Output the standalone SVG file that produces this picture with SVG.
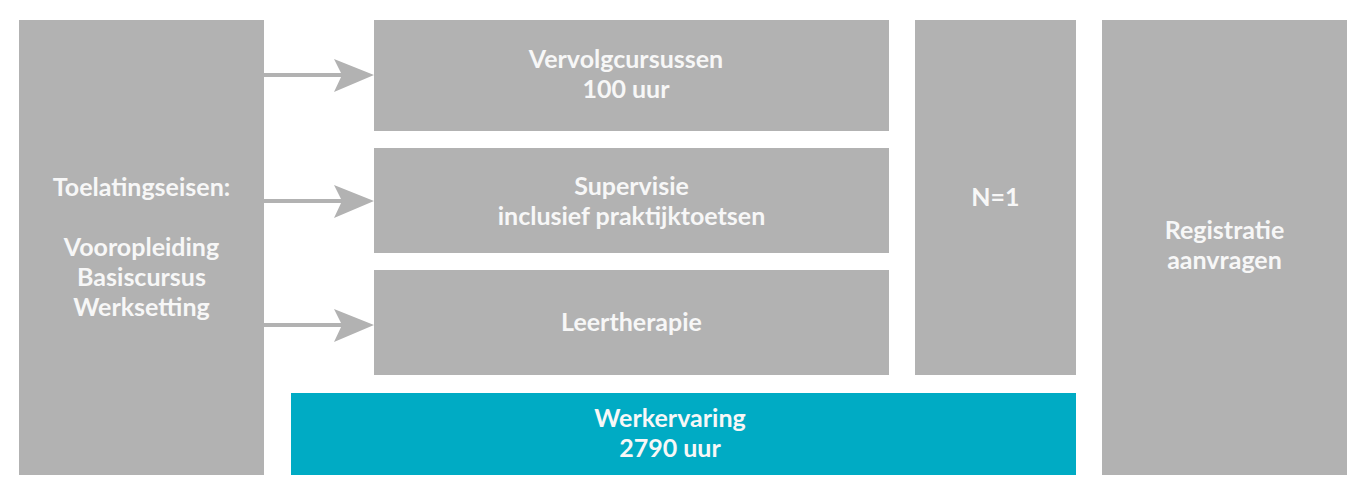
<svg xmlns="http://www.w3.org/2000/svg" width="1366" height="500" viewBox="0 0 1366 500">
<style>
.box{fill:#b2b2b2}
.teal{fill:#00abc4}
.t{font-family:Lato,"Open Sans","Liberation Sans",sans-serif;font-weight:bold;font-size:25px;fill:#f7f7f7;text-anchor:middle}
.line{stroke:#b2b2b2;stroke-width:4;fill:none}
.head{fill:#b2b2b2}
</style>
<rect width="1366" height="500" fill="#ffffff"/>
<g id="toelating">
<rect class="box" x="19" y="20" width="245" height="455"/>
<text class="t" x="141.5" y="196">Toelatingseisen:</text>
<text class="t" x="141.5" y="256">Vooropleiding</text>
<text class="t" x="141.5" y="286">Basiscursus</text>
<text class="t" x="141.5" y="316">Werksetting</text>
</g>
<g id="vervolg">
<rect class="box" x="374" y="20" width="515" height="111"/>
<text class="t" x="626" y="68">Vervolgcursussen</text>
<text class="t" x="626" y="98">100 uur</text>
</g>
<g id="supervisie">
<rect class="box" x="374" y="148" width="515" height="105"/>
<text class="t" x="631.5" y="195">Supervisie</text>
<text class="t" x="631.5" y="225">inclusief praktijktoetsen</text>
</g>
<g id="leertherapie">
<rect class="box" x="374" y="270" width="515" height="105"/>
<text class="t" x="631.5" y="331">Leertherapie</text>
</g>
<g id="n1">
<rect class="box" x="915" y="20" width="161" height="355"/>
<text class="t" x="995.5" y="206">N=1</text>
</g>
<g id="registratie">
<rect class="box" x="1102" y="20" width="245" height="455"/>
<text class="t" x="1224.5" y="239">Registratie</text>
<text class="t" x="1224.5" y="269">aanvragen</text>
</g>
<g id="werkervaring">
<rect class="teal" x="291" y="393" width="785" height="82"/>
<text class="t" x="670" y="427">Werkervaring</text>
<text class="t" x="670" y="457">2790 uur</text>
</g>
<g id="connectors">
<line class="line" x1="264" y1="75" x2="342" y2="75"/>
<polygon class="head" points="374,75 334,59 342,75 334,92"/>
<line class="line" x1="264" y1="201" x2="342" y2="201"/>
<polygon class="head" points="374,201 334,185 342,201 334,218"/>
<line class="line" x1="264" y1="325" x2="342" y2="325"/>
<polygon class="head" points="374,325 334,309 342,325 334,342"/>
</g>
</svg>
